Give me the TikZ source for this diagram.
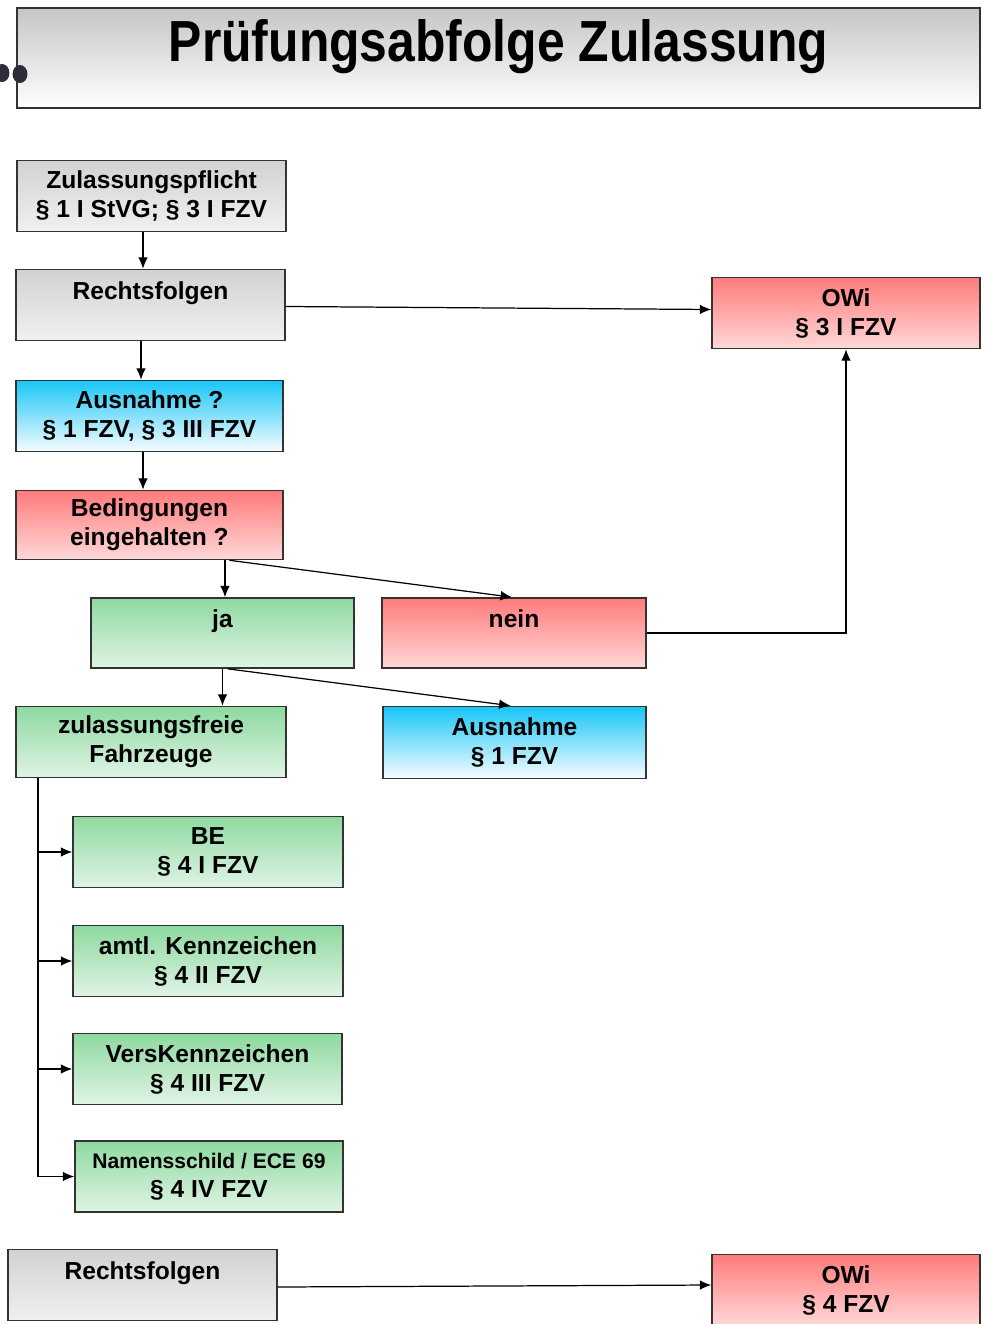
\documentclass[tikz,border=0pt]{standalone}
\usepackage{fontspec}
\setmainfont{Liberation Sans}
\newfontfamily\titlefont[FakeStretch=0.86]{Liberation Sans}
\usetikzlibrary{arrows.meta,positioning,calc}

\definecolor{boxline}{HTML}{333333}
\definecolor{graytop}{HTML}{D2D2D2}
\definecolor{graybot}{HTML}{F0F0F0}
\definecolor{redtop}{HTML}{FF7B7B}
\definecolor{redbot}{HTML}{FFD8D8}
\definecolor{bluetop}{HTML}{19C6F7}
\definecolor{bluebot}{HTML}{F7FCFF}
\definecolor{greentop}{HTML}{8ED9A0}
\definecolor{greenbot}{HTML}{E0F4E5}
\definecolor{dotcol}{HTML}{2E2E3A}

\tikzset{
  box/.style={rectangle, draw=boxline, line width=0.9pt, align=center,
    minimum width=5.38cm, minimum height=1.42cm, inner sep=0pt,
    font=\fontsize{14}{16.5}\selectfont\bfseries},
  graybox/.style={box, top color=graytop, bottom color=graybot},
  redbox/.style={box, top color=redtop, bottom color=redbot},
  bluebox/.style={box, top color=bluetop, bottom color=bluebot},
  greenbox/.style={box, top color=greentop, bottom color=greenbot},
  arr/.style={-{Latex[length=6.5pt,width=5.5pt]}, line width=0.7pt, black}
}

\begin{document}
\begin{tikzpicture}[x=0.02cm, y=-0.02cm]
    \useasboundingbox (0,0) rectangle (984,1324);

    % Title
    \node[rectangle, draw=boxline, line width=1.1pt, top color=gray!45, bottom color=white,
          minimum width=19.26cm, minimum height=2cm] (titlebox) at (498.5,58) {};
    \fill[dotcol] (2,73) ellipse [x radius=0.15cm, y radius=0.18cm];
    \fill[dotcol] (20,74) ellipse [x radius=0.15cm, y radius=0.18cm];
    \node[font=\titlefont\fontsize{33}{35}\selectfont\bfseries] (title) at (498.5,47) {Prüfungsabfolge Zulassung};

    % Left column
    \node[graybox] (pflicht) at (151.5,196) {Zulassungspflicht\\§ 1 I StVG; § 3 I FZV};
    \node[graybox] (rf1) at (150.5,305) {Rechtsfolgen\\~};
    \node[bluebox, minimum width=5.34cm] (ausn1) at (149.5,416) {Ausnahme ?\\§ 1 FZV, § 3 III FZV};
    \node[redbox, minimum width=5.34cm, minimum height=1.38cm] (beding) at (149.5,525) {Bedingungen\\eingehalten ?};

    % Decision
    \node[greenbox, minimum width=5.26cm, minimum height=1.4cm] (ja) at (222.5,633) {ja\\~};
    \node[redbox, minimum width=5.28cm, minimum height=1.4cm] (nein) at (514,633) {nein\\~};
    \node[greenbox, minimum width=5.4cm] (zfrei) at (151,742) {zulassungsfreie\\Fahrzeuge};
    \node[bluebox, minimum width=5.26cm, minimum height=1.44cm] (ausn2) at (514.5,742.5) {Ausnahme\\§ 1 FZV};

    % OWi
    \node[redbox, minimum width=5.36cm] (owi1) at (846,313) {OWi\\§ 3 I FZV};

    % Requirements
    \node[greenbox, minimum width=5.4cm] (be) at (208,852) {BE\\§ 4 I FZV};
    \node[greenbox, minimum width=5.4cm] (amtl) at (208,961) {amtl. Kennzeichen\\§ 4 II FZV};
    \node[greenbox] (vers) at (207.5,1069) {VersKennzeichen\\§ 4 III FZV};
    \node[greenbox, minimum width=5.36cm] (name) at (209,1176.5) {{\fontsize{12}{14}\selectfont Namensschild / ECE 69}\\§ 4 IV FZV};

    % Bottom
    \node[graybox] (rf2) at (142.5,1285) {Rechtsfolgen\\~};
    \node[redbox, minimum width=5.36cm] (owi2) at (846,1290) {OWi\\§ 4 FZV};

    % Arrows
    \draw[arr] ([xshift=-0.17cm]pflicht.south) coordinate (p1) -- (p1 |- rf1.north);
    \draw[arr] ([xshift=-0.19cm]rf1.south) coordinate (p2) -- (p2 |- ausn1.north);
    \draw[arr] ([xshift=-0.13cm]ausn1.south) coordinate (p3) -- (p3 |- beding.north);
    \draw[arr] ([yshift=-0.03cm]rf1.east) -- ([yshift=0.07cm]owi1.west);
    \draw[arr] ([xshift=1.51cm]beding.south) coordinate (p4) -- (p4 |- ja.north);
    \draw[arr] ([xshift=1.6cm]beding.south) -- ([xshift=-0.04cm]nein.north);
    \draw[arr] (nein.east) -| (owi1.south);
    \draw[arr] (ja.south) -- (ja.south |- zfrei.north);
    \draw[arr] ([xshift=0.1cm]ja.south) -- ([xshift=-0.08cm]ausn2.north);
    \draw[line width=0.7pt] ([xshift=-2.26cm]zfrei.south) coordinate (trunk) -- (trunk |- name.west);
    \foreach \n in {be,amtl,vers,name}
        \draw[arr] (trunk) |- (\n.west);
    \draw[arr] ([yshift=-0.04cm]rf2.east) -- ([yshift=0.1cm]owi2.west);
\end{tikzpicture}
\end{document}
